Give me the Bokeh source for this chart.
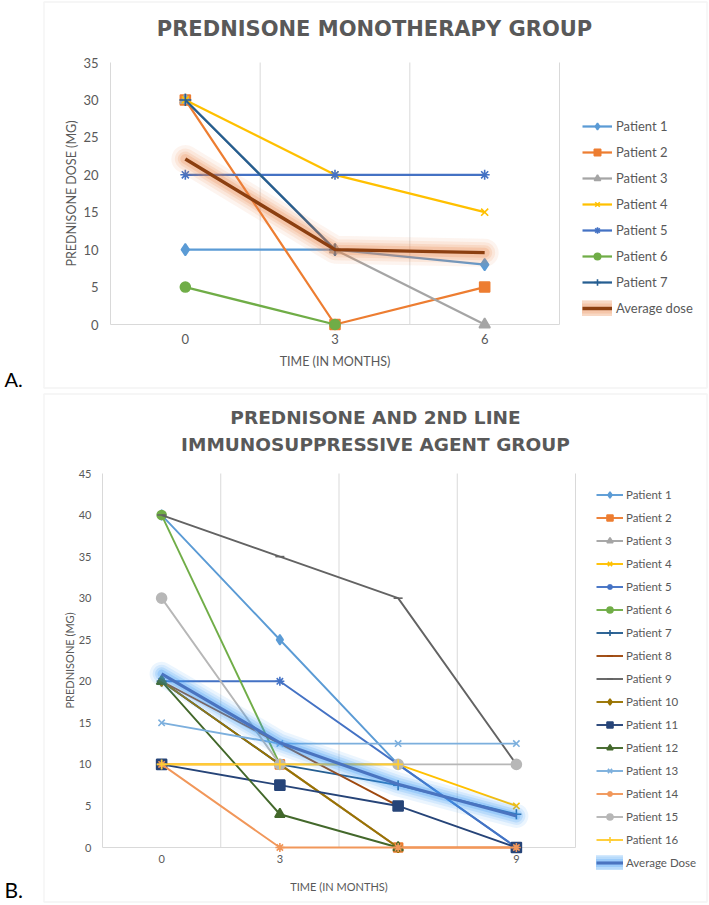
from bokeh.plotting import figure
from bokeh.models import Range1d, FixedTicker, Legend, LegendItem, Label, BoxAnnotation
from bokeh.layouts import column
from bokeh.embed import file_html
from bokeh.resources import INLINE

NAN = float("nan")

# ---------------- Panel A data ----------------
a_title = "PREDNISONE MONOTHERAPY GROUP"
a_months = [0, 3, 6]
a_yticks = [0, 5, 10, 15, 20, 25, 30, 35]
a_names = ["Patient 1", "Patient 2", "Patient 3", "Patient 4",
           "Patient 5", "Patient 6", "Patient 7"]
a_patient_1 = [10, 10, 8]
a_patient_2 = [30, 0, 5]
a_patient_3 = [30, 10, 0]
a_patient_4 = [30, 20, 15]
a_patient_5 = [20, 20, 20]
a_patient_6 = [5, 0, NAN]
a_patient_7 = [30, 10, NAN]
a_average = [22.1, 10, 9.6]
a_average_name = "Average dose"

# ---------------- Panel B data ----------------
b_title_1 = "PREDNISONE AND 2ND LINE"
b_title_2 = "IMMUNOSUPPRESSIVE AGENT GROUP"
b_months = [0, 3, 6, 9]
b_tick_months = [0, 3, 9]
b_yticks = [0, 5, 10, 15, 20, 25, 30, 35, 40, 45]
b_names = ["Patient %d" % i for i in range(1, 17)]
b_patient_1 = [40, 25, 10, 0]
b_patient_2 = [10, 10, 0, 0]
b_patient_3 = [20, 10, 0, NAN]
b_patient_4 = [10, 10, 10, 5]
b_patient_5 = [20, 20, 10, 0]
b_patient_6 = [40, 10, NAN, NAN]
b_patient_7 = [20, 10, 7.5, 4]
b_patient_8 = [20, 12.5, 5, NAN]
b_patient_9 = [40, 35, 30, 10]
b_patient_10 = [20, 10, 0, NAN]
b_patient_11 = [10, 7.5, 5, 0]
b_patient_12 = [20, 4, 0, NAN]
b_patient_13 = [15, 12.5, 12.5, 12.5]
b_patient_14 = [10, 0, 0, 0]
b_patient_15 = [30, 10, 10, 10]
b_patient_16 = [10, 10, 10, NAN]
b_average = [20.9, 12.6, 7.6, 3.8]
b_average_name = "Average Dose"

a_series = [a_patient_1, a_patient_2, a_patient_3, a_patient_4,
            a_patient_5, a_patient_6, a_patient_7]
b_series = [b_patient_1, b_patient_2, b_patient_3, b_patient_4, b_patient_5,
            b_patient_6, b_patient_7, b_patient_8, b_patient_9, b_patient_10,
            b_patient_11, b_patient_12, b_patient_13, b_patient_14,
            b_patient_15, b_patient_16]

# ---------------- styles ----------------
GREY = "#595959"
GRID = "#D9D9D9"
FONT = "Lato"
TFONT = "DejaVu Sans"

a_styles = [("#5B9BD5", "diamond", 12), ("#ED7D31", "square", 10),
            ("#A5A5A5", "triangle", 11), ("#FFC000", "x", 10),
            ("#4472C4", "asterisk", 10), ("#70AD47", "circle", 10),
            ("#255E91", "cross", 12)]
b_styles = [("#5B9BD5", "diamond", 10), ("#ED7D31", "square", 9),
            ("#A5A5A5", "triangle", 9), ("#FFC000", "x", 9),
            ("#4472C4", "asterisk", 9), ("#70AD47", "circle", 9),
            ("#255E91", "cross", 10), ("#9E480E", "dash", 7),
            ("#636363", "dash", 9), ("#997300", "diamond", 10),
            ("#264478", "square", 10), ("#43682B", "triangle", 10),
            ("#7CAFDD", "x", 9), ("#F1975A", "asterisk", 9),
            ("#B7B7B7", "circle", 10), ("#FFCD33", "cross", 10)]

W = 709


def make_panel(CY0, CY1, PL, PR, PT, PB, months, xticks, yticks,
               series, names, styles, lw, avg, avg_name,
               avg_color, glow_color, glow_layers, ylabel, tick_fs,
               ylabel_fs, xlabel_fs, y_std, ylab_std, x_std, xlab_std,
               leg_fs, leg_h, leg_sp, leg_gw, leg_so, leg_top):
    # category boundaries derived from the month list
    step = months[1] - months[0]
    bounds = [months[0] - step / 2] + [(a + b) / 2 for a, b in zip(months, months[1:])] \
        + [months[-1] + step / 2]
    xr = (bounds[0], bounds[-1])
    yr = (0, yticks[-1])
    kx = (xr[1] - xr[0]) / (PR - PL)
    ky = (yr[1] - yr[0]) / (PB - PT)
    x0 = xr[0] - PL * kx
    x1 = xr[1] + (W - PR) * kx
    y1 = yr[1] + (PT - CY0) * ky
    y0 = yr[0] - (CY1 - PB) * ky
    H = CY1 - CY0

    def cx(px):
        return xr[0] + (px - PL) * kx

    def cy(py):
        return yr[1] - (py - PT) * ky

    p = figure(width=W, height=H, x_range=Range1d(x0, x1), y_range=Range1d(y0, y1),
               output_backend="svg", toolbar_location=None, title=None,
               min_border=0)
    p.outline_line_color = None
    p.background_fill_color = "white"
    p.border_fill_color = "white"
    p.xgrid.visible = False
    p.ygrid.visible = False

    # Excel-style category separators and zero line
    p.segment(x0=bounds, y0=[yr[0]] * len(bounds), x1=bounds,
              y1=[yr[1]] * len(bounds), line_color=GRID, line_width=1)
    p.segment(x0=[xr[0]], y0=[0], x1=[xr[1]], y1=[0], line_color=GRID,
              line_width=1.2)

    for ax in (p.xaxis, p.yaxis):
        ax.axis_line_color = None
        ax.major_tick_line_color = None
        ax.minor_tick_line_color = None
        ax.major_tick_out = 0
        ax.major_tick_in = 0
        ax.major_label_text_font = FONT
        ax.major_label_text_font_size = tick_fs
        ax.major_label_text_color = GREY
        ax.axis_label_text_font = FONT
        ax.axis_label_text_font_style = "normal"
        ax.axis_label_text_color = GREY
    p.xaxis.fixed_location = 0
    p.yaxis.fixed_location = xr[0]
    p.xaxis.bounds = xr
    p.yaxis.bounds = yr
    p.xaxis.ticker = FixedTicker(ticks=xticks)
    p.yaxis.ticker = FixedTicker(ticks=yticks)
    p.xaxis.axis_label = "TIME (IN MONTHS)"
    p.yaxis.axis_label = ylabel
    p.xaxis.axis_label_text_font_size = xlabel_fs
    p.yaxis.axis_label_text_font_size = ylabel_fs
    p.yaxis.major_label_standoff = y_std
    p.yaxis.axis_label_standoff = ylab_std
    p.xaxis.major_label_standoff = x_std
    p.xaxis.axis_label_standoff = xlab_std

    items = []
    for name, ys, (col, mk, sz) in zip(names, series, styles):
        rl = p.line(months, ys, line_color=col, line_width=lw,
                    line_join="round")
        rs = p.scatter(months, ys, marker=mk, size=sz, fill_color=col,
                       line_color=col, line_width=1.6)
        items.append(LegendItem(label=name, renderers=[rl, rs]))

    rend = []
    for w, a in glow_layers:
        rend.append(p.line(months, avg, line_color=glow_color, line_alpha=a,
                           line_width=w, line_cap="round", line_join="round"))
    rend.append(p.line(months, avg, line_color=avg_color, line_width=lw + 1.2,
                       line_cap="butt", line_join="round"))
    items.append(LegendItem(label=avg_name, renderers=rend))

    n = len(items)
    leg_height = n * leg_h + (n - 1) * leg_sp
    leg = Legend(items=items, location=(leg_top[0], CY1 - (leg_top[1] + leg_height)),
                 orientation="vertical",
                 padding=0, margin=0, spacing=leg_sp, label_height=leg_h,
                 glyph_height=leg_h, glyph_width=leg_gw,
                 label_standoff=leg_so, label_text_font=FONT,
                 label_text_font_size=leg_fs, label_text_color=GREY,
                 border_line_color=None, background_fill_alpha=0)
    p.add_layout(leg)
    return p, cx, cy


# ---------------- Panel A ----------------
pa, cx, cy = make_panel(0, 392, 110, 559, 62, 324, a_months, a_months, a_yticks,
                        a_series, a_names, a_styles, 2.25, a_average,
                        a_average_name, "#8C3F10", "#EE8A4E",
                        [(28, 0.09), (21, 0.12), (15, 0.16), (10, 0.22)],
                        "PREDNISONE DOSE (MG)", "13px", "12.5px", "12.5px",
                        12, 1, 9, 7, "13px", 16, 10, 30, 4, (582, 118))
pa.add_layout(Label(x=cx(374), y=cy(28.5), text=a_title, text_align="center",
                    text_baseline="middle", text_font=TFONT,
                    text_font_style="bold", text_font_size="21px",
                    text_color=GREY))
pa.add_layout(Label(x=cx(4), y=cy(378), text="A.", text_align="left",
                    text_baseline="middle", text_font=FONT,
                    text_font_size="20px", text_color="#000000"))
pa.add_layout(BoxAnnotation(left=cx(43.5), right=cx(706.5), top=cy(1.5),
                            bottom=cy(387.5), fill_color=None, fill_alpha=0,
                            line_color=GRID, line_width=1.5))

# ---------------- Panel B ----------------
pb, cx, cy = make_panel(392, 904, 102, 575, 473, 847, b_months, b_tick_months,
                        b_yticks, b_series, b_names, b_styles, 1.9, b_average,
                        b_average_name, "#4A74C0", "#3F9CF5",
                        [(24, 0.10), (18, 0.13), (13, 0.18), (8, 0.24)],
                        "PREDNISONE (MG)", "11px", "11px", "11px",
                        11, 0, 7, 14, "11.5px", 15, 8, 27, 3, (596, 487))
pb.add_layout(Label(x=cx(375), y=cy(416.5), text=b_title_1, text_align="center",
                    text_baseline="middle", text_font=TFONT,
                    text_font_style="bold", text_font_size="18.5px",
                    text_color=GREY))
pb.add_layout(Label(x=cx(375), y=cy(443.5), text=b_title_2, text_align="center",
                    text_baseline="middle", text_font=TFONT,
                    text_font_style="bold", text_font_size="18.5px",
                    text_color=GREY))
pb.add_layout(Label(x=cx(4), y=cy(889), text="B.", text_align="left",
                    text_baseline="middle", text_font=FONT,
                    text_font_size="21px", text_color="#000000"))
pb.add_layout(BoxAnnotation(left=cx(43.5), right=cx(706.5), top=cy(393.5),
                            bottom=cy(901.5), fill_color=None, fill_alpha=0,
                            line_color=GRID, line_width=1.5))

layout = column(pa, pb, spacing=0)
open("out.html", "w").write(file_html(layout, INLINE))
